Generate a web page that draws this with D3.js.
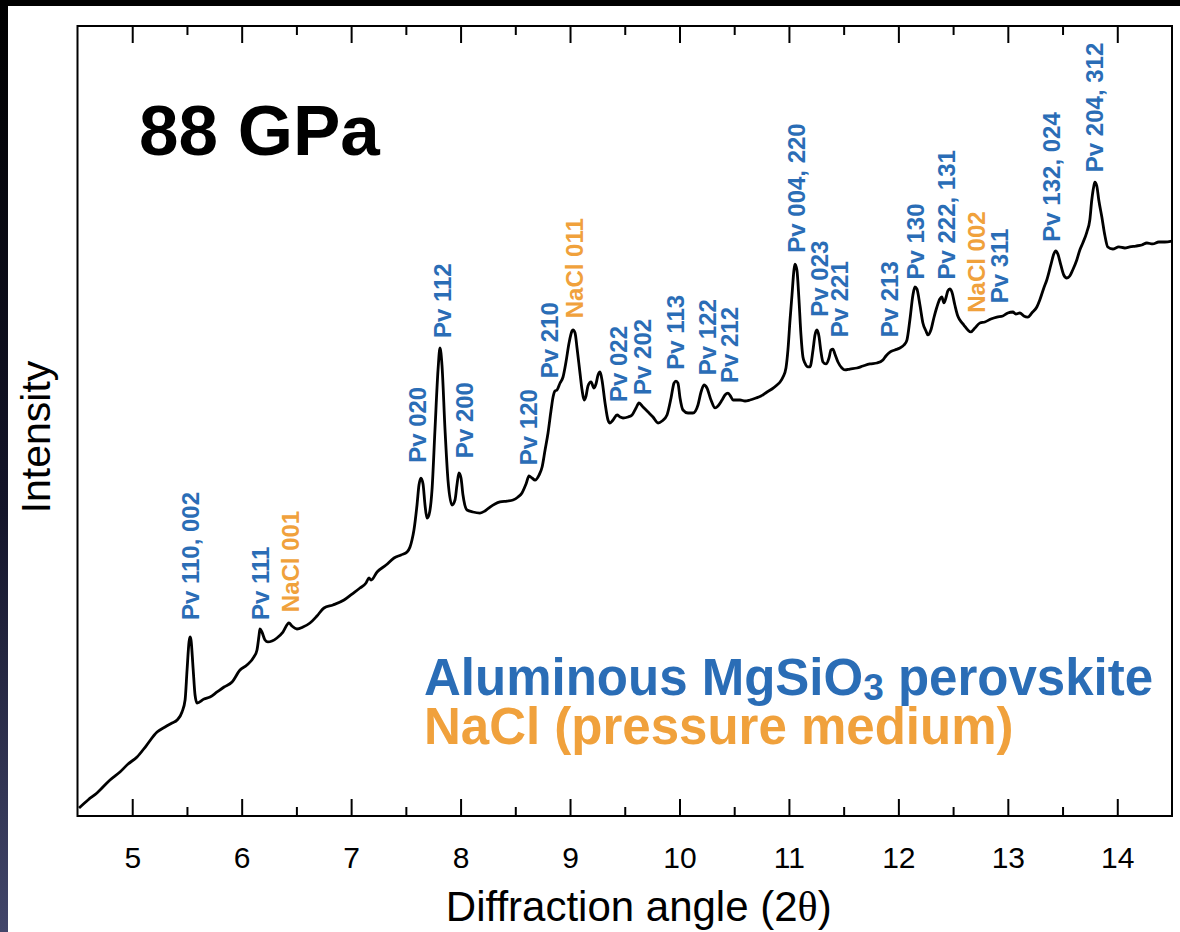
<!DOCTYPE html>
<html>
<head>
<meta charset="utf-8">
<script src="https://cdn.jsdelivr.net/npm/d3@7/dist/d3.min.js"></script>
<style>
  body { margin: 0; background: #fff; }
  svg { display: block; }
</style>
</head>
<body>
<div id="graph"></div>
<script>
// Data: diffraction pattern (angle in degrees 2theta, intensity arb. units)
const pattern = [
  [4.514, 1.01], [4.596, 2.03], [4.678, 2.91], [4.797, 4.56], [4.888, 5.57], [4.962, 6.58],
  [5.044, 7.47], [5.126, 8.86], [5.227, 10.63], [5.300, 11.27], [5.364, 11.77], [5.410, 12.15],
  [5.455, 13.16], [5.483, 14.68], [5.501, 18.48], [5.519, 22.03], [5.528, 22.66], [5.537, 22.28],
  [5.556, 18.73], [5.574, 15.32], [5.592, 14.30], [5.656, 14.81], [5.711, 15.06], [5.775, 15.70],
  [5.839, 16.33], [5.912, 16.96], [5.985, 18.48], [6.048, 19.11], [6.112, 20.13], [6.140, 21.01],
  [6.158, 22.78], [6.167, 23.67], [6.185, 23.29], [6.213, 22.28], [6.240, 22.03], [6.277, 22.15],
  [6.322, 22.53], [6.377, 23.29], [6.432, 24.43], [6.459, 24.05], [6.505, 23.67], [6.560, 23.92],
  [6.624, 24.43], [6.688, 25.32], [6.752, 26.33], [6.834, 26.71], [6.935, 27.34], [7.008, 28.10],
  [7.081, 28.86], [7.136, 29.49], [7.163, 30.13], [7.182, 29.87], [7.237, 30.89], [7.319, 31.77],
  [7.392, 32.66], [7.456, 33.04], [7.511, 33.42], [7.538, 34.05], [7.556, 34.94], [7.574, 36.20],
  [7.602, 39.37], [7.620, 41.90], [7.638, 42.78], [7.657, 42.03], [7.675, 39.37], [7.693, 37.72],
  [7.711, 38.10], [7.739, 41.27], [7.766, 48.86], [7.794, 56.46], [7.812, 59.24], [7.830, 57.09],
  [7.858, 48.86], [7.885, 42.53], [7.922, 39.37], [7.949, 40.00], [7.967, 41.90], [7.985, 43.42],
  [8.004, 42.78], [8.022, 40.63], [8.059, 38.73], [8.113, 38.48], [8.177, 38.35], [8.223, 38.61],
  [8.269, 39.11], [8.314, 39.49], [8.360, 39.75], [8.424, 39.87], [8.479, 40.00], [8.525, 40.38],
  [8.561, 40.89], [8.598, 42.03], [8.625, 43.04], [8.653, 42.78], [8.680, 42.53], [8.717, 43.16],
  [8.745, 44.18], [8.772, 46.33], [8.799, 48.48], [8.827, 51.39], [8.845, 53.04], [8.863, 53.80],
  [8.881, 53.92], [8.909, 54.81], [8.936, 55.57], [8.963, 57.47], [8.991, 59.87], [9.018, 61.39],
  [9.027, 61.52], [9.046, 61.14], [9.064, 59.24], [9.091, 56.08], [9.110, 53.92], [9.128, 52.66],
  [9.146, 53.16], [9.164, 54.43], [9.192, 54.94], [9.219, 54.18], [9.237, 54.68], [9.256, 55.82],
  [9.274, 56.20], [9.292, 55.19], [9.320, 52.28], [9.347, 50.13], [9.365, 49.75], [9.393, 50.13],
  [9.430, 50.76], [9.457, 50.51], [9.484, 50.38], [9.530, 50.51], [9.567, 50.76], [9.603, 51.65],
  [9.630, 52.28], [9.667, 51.77], [9.713, 51.14], [9.758, 50.51], [9.804, 49.75], [9.841, 50.00],
  [9.886, 50.76], [9.923, 52.91], [9.950, 54.81], [9.968, 55.06], [9.986, 54.81], [10.005, 52.91],
  [10.032, 51.39], [10.078, 51.01], [10.123, 51.01], [10.169, 52.03], [10.197, 53.67], [10.224, 54.56],
  [10.251, 54.18], [10.288, 52.66], [10.325, 51.65], [10.352, 51.90], [10.389, 52.66], [10.416, 53.29],
  [10.443, 53.54], [10.471, 53.04], [10.489, 52.66], [10.553, 52.66], [10.599, 52.53], [10.644, 52.66],
  [10.699, 52.91], [10.745, 53.16], [10.800, 53.67], [10.845, 54.05], [10.891, 54.56], [10.919, 54.94],
  [10.946, 55.57], [10.973, 56.71], [10.991, 58.99], [11.010, 62.78], [11.028, 65.95], [11.046, 69.11],
  [11.055, 69.87], [11.073, 69.11], [11.092, 65.32], [11.110, 60.89], [11.128, 58.10], [11.146, 57.34],
  [11.174, 56.84], [11.192, 56.84], [11.220, 58.99], [11.238, 60.89], [11.256, 61.52], [11.274, 60.76],
  [11.293, 58.73], [11.311, 57.47], [11.338, 57.22], [11.366, 57.97], [11.384, 58.99], [11.402, 59.11],
  [11.420, 58.48], [11.448, 57.47], [11.484, 56.71], [11.512, 56.46], [11.557, 56.58], [11.621, 56.71],
  [11.676, 56.96], [11.740, 57.22], [11.804, 57.34], [11.859, 57.72], [11.886, 58.23], [11.923, 58.73],
  [11.968, 58.99], [12.014, 59.24], [12.051, 59.62], [12.078, 60.25], [12.105, 62.78], [12.133, 65.95],
  [12.151, 66.96], [12.169, 66.71], [12.197, 64.68], [12.224, 62.41], [12.252, 61.39], [12.270, 60.89],
  [12.297, 61.52], [12.324, 63.04], [12.352, 64.43], [12.379, 65.44], [12.397, 65.70], [12.416, 64.94],
  [12.434, 65.57], [12.452, 66.46], [12.470, 66.71], [12.489, 66.33], [12.516, 64.68], [12.543, 63.29],
  [12.562, 62.78], [12.598, 62.15], [12.635, 61.52], [12.662, 61.27], [12.699, 61.77], [12.745, 62.41],
  [12.790, 62.53], [12.845, 62.91], [12.900, 63.16], [12.954, 63.29], [13.000, 63.67], [13.046, 63.80],
  [13.073, 63.54], [13.110, 63.67], [13.146, 63.29], [13.183, 63.16], [13.219, 63.67], [13.265, 64.43],
  [13.292, 65.32], [13.329, 66.84], [13.356, 67.85], [13.393, 69.75], [13.420, 71.14], [13.438, 71.52],
  [13.457, 71.14], [13.484, 69.75], [13.511, 68.48], [13.539, 68.10], [13.566, 68.35], [13.593, 69.11],
  [13.630, 70.38], [13.658, 71.65], [13.685, 72.53], [13.722, 73.92], [13.749, 75.44], [13.767, 77.97],
  [13.786, 79.75], [13.795, 80.25], [13.813, 79.75], [13.831, 77.97], [13.859, 75.82], [13.886, 73.54],
  [13.913, 72.03], [13.959, 71.77], [14.014, 72.03], [14.069, 71.90], [14.114, 72.03], [14.169, 72.15],
  [14.224, 72.28], [14.270, 72.53], [14.324, 72.41], [14.379, 72.66], [14.434, 72.66], [14.498, 72.78]
]

// Peak labels: name, angle, intensity level where the label starts, phase
const peakNames = ['Pv 110, 002', 'Pv 111', 'NaCl 001', 'Pv 020', 'Pv 112', 'Pv 200', 'Pv 120', 'Pv 210',
  'NaCl 011', 'Pv 022', 'Pv 202', 'Pv 113', 'Pv 122', 'Pv 212', 'Pv 004, 220', 'Pv 023', 'Pv 221',
  'Pv 213', 'Pv 130', 'Pv 222, 131', 'NaCl 002', 'Pv 311', 'Pv 132, 024', 'Pv 204, 312']
const peakAngles = [5.528, 6.167, 6.442, 7.602, 7.830, 8.031, 8.616, 8.808,
  9.036, 9.439, 9.658, 9.960, 10.252, 10.453, 11.065, 11.275, 11.458,
  11.915, 12.152, 12.435, 12.709, 12.919, 13.402, 13.795]
const peakLevels = [24.8, 24.8, 25.8, 44.7, 60.5, 45.3, 44.4, 55.4,
  63.0, 52.4, 53.3, 56.5, 55.8, 54.8, 71.3, 63.2, 60.6,
  60.6, 67.9, 67.9, 63.7, 64.9, 72.7, 81.5]
const peakPhases = ['pv', 'pv', 'nacl', 'pv', 'pv', 'pv', 'pv', 'pv',
  'nacl', 'pv', 'pv', 'pv', 'pv', 'pv', 'pv', 'pv', 'pv',
  'pv', 'pv', 'pv', 'nacl', 'pv', 'pv', 'pv']

const majorTicks = [5, 6, 7, 8, 9, 10, 11, 12, 13, 14]
const minorTicks = [5.5, 6.5, 7.5, 8.5, 9.5, 10.5, 11.5, 12.5, 13.5]

const blue = '#2a6db6'
const orange = '#f0a13c'
const fontFamily = '"Liberation Sans", Arial, Helvetica, sans-serif'

// Setting up the svg, frame and scales
total_width = 1180
total_height = 932
margins = { top: 26, left: 77.5, right: 8, bottom: 116 }
width = total_width - margins.left - margins.right
height = total_height - margins.top - margins.bottom

svg = d3.select('#graph').append('svg')
  .attr('width', total_width)
  .attr('height', total_height)
  .style('font-family', fontFamily)

// dark borders of the original slide
defs = svg.append('defs')
grad = defs.append('linearGradient').attr('id', 'edge').attr('x1', 0).attr('y1', 0).attr('x2', 0).attr('y2', 1)
grad.append('stop').attr('offset', '0%').attr('stop-color', '#000')
grad.append('stop').attr('offset', '55%').attr('stop-color', '#14152a')
grad.append('stop').attr('offset', '100%').attr('stop-color', '#42466a')

svg.append('rect').attr('width', total_width).attr('height', total_height).attr('fill', '#fff')
svg.append('rect').attr('x', 0).attr('y', 0).attr('width', 8).attr('height', total_height).attr('fill', 'url(#edge)')
svg.append('rect').attr('x', 0).attr('y', 0).attr('width', total_width).attr('height', 6).attr('fill', '#000')

g = svg.append('g')
  .attr('transform', `translate(${margins.left}, ${margins.top})`)

x = d3.scaleLinear().domain([4.5, 14.5]).range([0, width])
y = d3.scaleLinear().domain([0, 100]).range([height, 0])

// Axes: major and minor ticks pointing inward, on bottom and top
function styleAxis(sel) {
  sel.select('.domain').remove()
  sel.selectAll('line').attr('stroke', '#000').attr('stroke-width', 2)
  sel.selectAll('text').attr('fill', '#000').style('font-size', '30px').style('font-family', fontFamily)
}

g.append('g')
  .attr('transform', `translate(0, ${height})`)
  .call(d3.axisBottom(x).tickValues(majorTicks).tickSize(-17).tickPadding(31).tickFormat(d3.format('d')))
  .call(styleAxis)
g.append('g')
  .attr('transform', `translate(0, ${height})`)
  .call(d3.axisBottom(x).tickValues(minorTicks).tickSize(-9).tickFormat(''))
  .call(styleAxis)
g.append('g')
  .call(d3.axisTop(x).tickValues(majorTicks).tickSize(-17).tickFormat(''))
  .call(styleAxis)
g.append('g')
  .call(d3.axisTop(x).tickValues(minorTicks).tickSize(-9).tickFormat(''))
  .call(styleAxis)

g.append('rect')
  .attr('width', width)
  .attr('height', height)
  .attr('fill', 'none')
  .attr('stroke', '#000')
  .attr('stroke-width', 2)

// The pattern
g.append('path')
  .datum(pattern)
  .attr('fill', 'none')
  .attr('stroke', '#000')
  .attr('stroke-width', 2.8)
  .attr('stroke-linejoin', 'round')
  .attr('d', d3.line()
    .curve(d3.curveMonotoneX)
    .x(d => x(d[0]))
    .y(d => y(d[1])))

// Peak labels
g.selectAll('.peak')
  .data(peakNames)
  .enter()
  .append('text')
  .attr('class', 'peak')
  .attr('transform', (d, i) => `translate(${x(peakAngles[i])}, ${y(peakLevels[i])}) rotate(-90)`)
  .attr('dy', '0.36em')
  .attr('fill', (d, i) => peakPhases[i] == 'pv' ? blue : orange)
  .style('font-size', '24px')
  .style('font-weight', 'bold')
  .text(d => d)

// Pressure
svg.append('text')
  .attr('x', 139)
  .attr('y', 155)
  .style('font-size', '71px')
  .style('font-weight', 'bold')
  .attr('fill', '#000')
  .text('88 GPa')

// Legend: one block of two coloured lines
legend = svg.append('text')
  .attr('x', 424)
  .attr('y', 695)
  .style('font-size', '51px')
  .style('font-weight', 'bold')
legend.append('tspan').attr('fill', blue).text('Aluminous MgSiO')
legend.append('tspan').attr('fill', blue).attr('dy', 5).style('font-size', '37px').text('3')
legend.append('tspan').attr('fill', blue).attr('dy', -5).text(' perovskite')
legend.append('tspan').attr('fill', orange).attr('x', 424).attr('dy', 49).text('NaCl (pressure medium)')

// Axis titles
xt = svg.append('text')
  .attr('x', margins.left + width / 2 + 14)
  .attr('y', 921)
  .attr('text-anchor', 'middle')
  .style('font-size', '42px')
  .attr('fill', '#000')
xt.append('tspan').text('Diffraction angle (2')
xt.append('tspan').style('font-family', '"Liberation Serif", "Times New Roman", serif').text('θ')
xt.append('tspan').text(')')

svg.append('text')
  .attr('transform', `translate(50, ${margins.top + height / 2 + 16}) rotate(-90)`)
  .attr('text-anchor', 'middle')
  .style('font-size', '41px')
  .attr('fill', '#000')
  .text('Intensity')
</script>
</body>
</html>
